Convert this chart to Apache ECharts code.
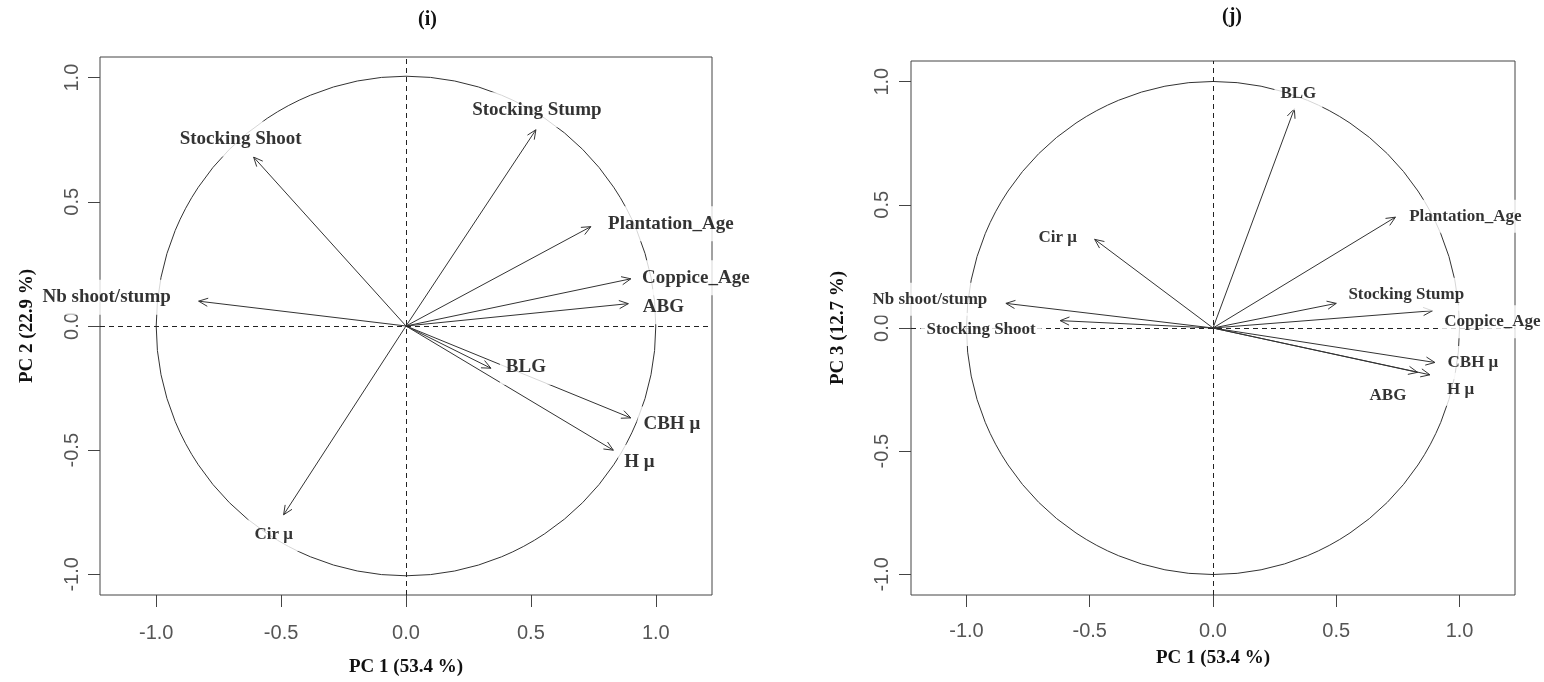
<!DOCTYPE html>
<html>
<head>
<meta charset="utf-8">
<script src="https://cdn.jsdelivr.net/npm/echarts@6/dist/echarts.min.js"></script>
<style>
  html, body { margin: 0; padding: 0; background: #fff; }
  #chart { width: 1544px; height: 682px; }
</style>
</head>
<body>
<div id="chart"></div>
<script>
// ---------------- DATA ----------------
// Panel (i): PC1 vs PC2 loadings
const varsI = ['Stocking Shoot', 'Nb shoot/stump', 'Stocking Stump', 'Plantation_Age', 'Coppice_Age', 'ABG', 'BLG', 'CBH μ', 'H μ', 'Cir μ'];
const pc1I  = [-0.61, -0.83, 0.52, 0.74, 0.90, 0.89, 0.34, 0.90, 0.83, -0.49];
const pc2I  = [ 0.68,  0.10, 0.79, 0.40, 0.19, 0.09, -0.17, -0.37, -0.50, -0.76];

// Panel (j): PC1 vs PC3 loadings
const varsJ = ['BLG', 'Plantation_Age', 'Stocking Stump', 'Coppice_Age', 'CBH μ', 'H μ', 'ABG', 'Cir μ', 'Nb shoot/stump', 'Stocking Shoot'];
const pc1J  = [0.33, 0.74, 0.50, 0.89, 0.90, 0.83, 0.88, -0.48, -0.84, -0.62];
const pc3J  = [0.89, 0.45, 0.10, 0.07, -0.14, -0.18, -0.19, 0.36, 0.10, 0.03];

// Correlation circle (centre x, centre y, radius)
const unitCircle = [[0, 0, 1]];

// Tick values
const tickValues = [-1.0, -0.5, 0.0, 0.5, 1.0];

// Titles
const panelTitles = ['(i)', '(j)'];
const xTitles = ['PC 1 (53.4 %)', 'PC 1 (53.4 %)'];
const yTitles = ['PC 2 (22.9 %)', 'PC 3 (12.7 %)'];

// ---------------- STYLE (label placement in px relative to arrow tip) ----------------
const labelStyleI = {
  'Stocking Shoot': { off: [-13, -18] },
  'Nb shoot/stump': { off: [-92, -4] },
  'Stocking Stump': { off: [1, -20] },
  'Plantation_Age': { off: [80, -3] },
  'Coppice_Age':    { off: [65, -1] },
  'ABG':            { off: [35, 3] },
  'BLG':            { off: [35, -1] },
  'CBH μ':          { off: [41, 6] },
  'H μ':            { off: [26, 12] },
  'Cir μ':          { off: [-10, 20], size: 17 }
};
const labelStyleJ = {
  'BLG':            { off: [4, -15] },
  'Plantation_Age': { off: [70, -1] },
  'Stocking Stump': { off: [70, -9] },
  'Coppice_Age':    { off: [60, 11] },
  'CBH μ':          { off: [38, 0] },
  'H μ':            { off: [43, 17] },
  'ABG':            { off: [-42, 21] },
  'Cir μ':          { off: [-37, -2] },
  'Nb shoot/stump': { off: [-76, -4] },
  'Stocking Shoot': { off: [-79, 9] }
};

const INK = '#333';

function arrowRender(params, api) {
  const p0 = api.coord([0, 0]);
  const p1 = api.coord([api.value(0), api.value(1)]);
  const ang = Math.atan2(p1[1] - p0[1], p1[0] - p0[0]);
  const L = 10, a = 0.42;
  const h1 = [p1[0] - L * Math.cos(ang - a), p1[1] - L * Math.sin(ang - a)];
  const h2 = [p1[0] - L * Math.cos(ang + a), p1[1] - L * Math.sin(ang + a)];
  return {
    type: 'group',
    children: [
      { type: 'line', shape: { x1: p0[0], y1: p0[1], x2: p1[0], y2: p1[1] }, style: { stroke: INK, lineWidth: 1 } },
      { type: 'polyline', shape: { points: [h1, p1, h2] }, style: { stroke: INK, fill: null, lineWidth: 1 } }
    ]
  };
}

function circleRender(params, api) {
  const c = api.coord([api.value(0), api.value(1)]);
  const r = api.size([api.value(2), 0])[0];
  return { type: 'circle', shape: { cx: c[0], cy: c[1], r: r }, style: { stroke: INK, fill: null, lineWidth: 1 } };
}

function labelData(names, xs, ys, styleMap, baseSize) {
  return names.map((n, i) => {
    const s = styleMap[n] || { off: [0, 0] };
    return {
      name: n,
      value: [xs[i], ys[i]],
      label: { offset: s.off, fontSize: s.size || baseSize }
    };
  });
}

function axisCommon(isX, gridIndex, min, max, name, nameGap, margin) {
  const o = {
    type: 'value', gridIndex: gridIndex, min: min, max: max,
    name: name, nameLocation: 'middle', nameGap: nameGap,
    nameTextStyle: { fontFamily: 'Liberation Serif', fontWeight: 'bold', fontSize: 19, color: '#111' },
    axisLine: { show: false, onZero: false },
    axisTick: { show: true, length: 12, lineStyle: { color: '#444', width: 1 }, customValues: tickValues },
    axisLabel: {
      customValues: tickValues, margin: margin,
      fontFamily: 'Liberation Sans', fontSize: 20, color: '#555',
      formatter: v => Number(v).toFixed(1)
    },
    splitLine: { show: false },
    minorTick: { show: false }
  };
  if (!isX) { o.axisLabel.rotate = 90; o.nameRotate = 90; }
  return o;
}

const dashed = {
  silent: true, symbol: ['none', 'none'],
  label: { show: false },
  lineStyle: { type: [5, 4], color: '#222', width: 1 },
  data: [{ xAxis: 0 }, { yAxis: 0 }]
};

function labelSeries(idx, data) {
  return {
    type: 'scatter', xAxisIndex: idx, yAxisIndex: idx, z: 10,
    symbolSize: 0.1, itemStyle: { color: 'rgba(0,0,0,0)' },
    silent: true, clip: false,
    label: {
      show: true, position: 'inside', formatter: '{b}',
      fontFamily: 'Liberation Serif', fontWeight: 'bold', color: '#000',
      backgroundColor: '#fff', padding: [8, 6]
    },
    data: data
  };
}

const titleStyle = { fontFamily: 'Liberation Serif', fontWeight: 'bold', fontSize: 20, color: '#111' };

const option = {
  animation: false,
  backgroundColor: '#fff',
  title: [
    { text: panelTitles[0], left: 418, top: 10, padding: 0, textStyle: titleStyle },
    { text: panelTitles[1], left: 1222, top: 7, padding: 0, textStyle: titleStyle }
  ],
  grid: [
    { left: 100, top: 57, width: 612, height: 540, show: true, borderColor: '#444', borderWidth: 1, backgroundColor: 'rgba(0,0,0,0)' },
    { left: 911, top: 61, width: 604, height: 534, show: true, borderColor: '#444', borderWidth: 1, backgroundColor: 'rgba(0,0,0,0)' }
  ],
  xAxis: [
    axisCommon(true, 0, -1.225, 1.225, xTitles[0], 63, 28),
    axisCommon(true, 1, -1.225, 1.225, xTitles[1], 54, 26)
  ],
  yAxis: [
    axisCommon(false, 0, -1.083, 1.083, yTitles[0], 63, 18),
    axisCommon(false, 1, -1.084, 1.084, yTitles[1], 63, 19)
  ],
  series: [
    { type: 'custom', xAxisIndex: 0, yAxisIndex: 0, z: 2, silent: true, clip: false, renderItem: circleRender, data: unitCircle, markLine: dashed },
    { type: 'custom', xAxisIndex: 0, yAxisIndex: 0, z: 3, silent: true, clip: false, renderItem: arrowRender,
      data: varsI.map((n, i) => ({ name: n, value: [pc1I[i], pc2I[i]] })) },
    labelSeries(0, labelData(varsI, pc1I, pc2I, labelStyleI, 19)),

    { type: 'custom', xAxisIndex: 1, yAxisIndex: 1, z: 2, silent: true, clip: false, renderItem: circleRender, data: unitCircle, markLine: dashed },
    { type: 'custom', xAxisIndex: 1, yAxisIndex: 1, z: 3, silent: true, clip: false, renderItem: arrowRender,
      data: varsJ.map((n, i) => ({ name: n, value: [pc1J[i], pc3J[i]] })) },
    labelSeries(1, labelData(varsJ, pc1J, pc3J, labelStyleJ, 17))
  ]
};

const chart = echarts.init(document.getElementById('chart'), null, { renderer: 'canvas' });
chart.setOption(option);
</script>
</body>
</html>
